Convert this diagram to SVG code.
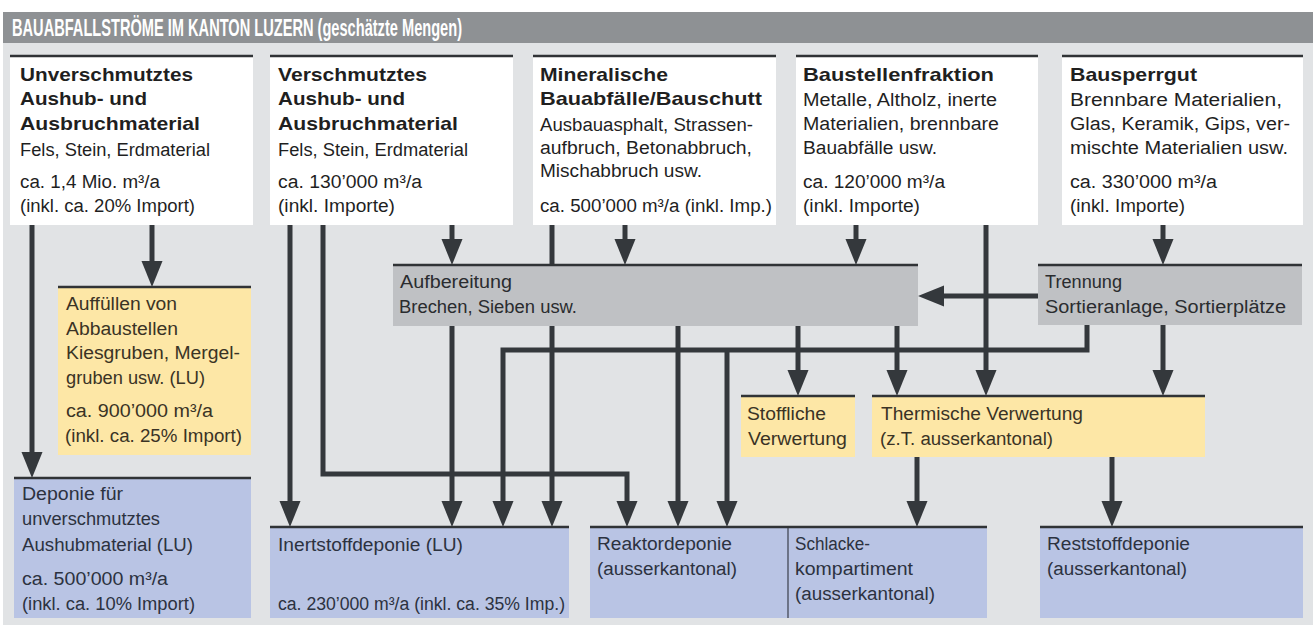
<svg xmlns="http://www.w3.org/2000/svg" width="1316" height="627" viewBox="0 0 1316 627">
<style>
.t{font-family:"Liberation Sans",Arial,sans-serif;font-size:18px;fill:#1f1f1f}
.b{font-weight:bold;font-size:19px}
.g{fill:#2a2c2f}
.y{fill:#3a3325}
.bl{fill:#2c3240}
.white{fill:#ffffff}
.gray{fill:#bfc1c4}
.yel{fill:#fde7a6}
.blue{fill:#b9c4e4}
.rule{stroke:#303336;stroke-width:2.5}
.c{fill:none;stroke:#34383c;stroke-width:5}
.ca{fill:none;stroke:#34383c;stroke-width:5;marker-end:url(#ah)}
</style>
<defs>
<marker id="ah" markerUnits="userSpaceOnUse" markerWidth="27" markerHeight="23" refX="13" refY="11.5" orient="auto" viewBox="0 0 27 23">
<path d="M0,1 L26,11.5 L0,22 z" fill="#34383c"/>
</marker>
</defs>
<rect x="0" y="0" width="1316" height="627" fill="#ffffff"/>
<rect x="3" y="12" width="1310" height="613" fill="#e1e3e5"/>
<g id="title">
<rect x="3" y="12" width="1310" height="31" fill="#8e9194"/>
<text x="12" y="36" class="t" style="font-size:23px;font-weight:bold;fill:#ffffff;font-stretch:condensed" textLength="450" lengthAdjust="spacingAndGlyphs">BAUABFALLSTRÖME IM KANTON LUZERN (geschätzte Mengen)</text>
</g>

<g id="connectors">
<line class="ca" x1="32" y1="225" x2="32" y2="465"/>
<line class="ca" x1="152" y1="225" x2="152" y2="274"/>
<line class="ca" x1="290" y1="225" x2="290" y2="514"/>
<polyline class="ca" points="323,225 323,474 627,474 627,514"/>
<line class="ca" x1="452" y1="225" x2="452" y2="252"/>
<line class="c" x1="552" y1="225" x2="552" y2="266"/>
<line class="ca" x1="625" y1="225" x2="625" y2="252"/>
<line class="ca" x1="856" y1="225" x2="856" y2="252"/>
<line class="ca" x1="986" y1="225" x2="986" y2="383"/>
<line class="ca" x1="1163" y1="225" x2="1163" y2="252"/>
<line class="ca" x1="1038" y1="296" x2="931" y2="296"/>
<line class="ca" x1="452" y1="326" x2="452" y2="514"/>
<line class="ca" x1="552" y1="326" x2="552" y2="514"/>
<line class="ca" x1="678" y1="326" x2="678" y2="514"/>
<line class="ca" x1="798" y1="326" x2="798" y2="383"/>
<line class="ca" x1="897" y1="326" x2="897" y2="383"/>
<polyline class="ca" points="1087,325 1087,350 503,350 503,514"/>
<line class="ca" x1="727" y1="350" x2="727" y2="514"/>
<line class="ca" x1="1163" y1="325" x2="1163" y2="383"/>
<line class="ca" x1="917" y1="457" x2="917" y2="514"/>
<line class="ca" x1="1112" y1="457" x2="1112" y2="514"/>
</g>

<g id="n-unverschmutzt">
<rect class="white" x="10" y="57" width="243" height="168"/>
<line class="rule" x1="10" y1="56" x2="253" y2="56"/>
<text class="t b" x="20" y="81" textLength="173" lengthAdjust="spacingAndGlyphs">Unverschmutztes</text>
<text class="t b" x="20" y="105" textLength="127" lengthAdjust="spacingAndGlyphs">Aushub- und</text>
<text class="t b" x="20" y="130" textLength="180" lengthAdjust="spacingAndGlyphs">Ausbruchmaterial</text>
<text class="t" x="20" y="156" textLength="190" lengthAdjust="spacingAndGlyphs">Fels, Stein, Erdmaterial</text>
<text class="t" x="20" y="188" textLength="140" lengthAdjust="spacingAndGlyphs">ca. 1,4 Mio. m³/a</text>
<text class="t" x="20" y="212" textLength="175" lengthAdjust="spacingAndGlyphs">(inkl. ca. 20% Import)</text>
</g>

<g id="n-verschmutzt">
<rect class="white" x="270" y="57" width="243" height="168"/>
<line class="rule" x1="270" y1="56" x2="513" y2="56"/>
<text class="t b" x="278" y="81" textLength="149" lengthAdjust="spacingAndGlyphs">Verschmutztes</text>
<text class="t b" x="278" y="105" textLength="127" lengthAdjust="spacingAndGlyphs">Aushub- und</text>
<text class="t b" x="278" y="130" textLength="180" lengthAdjust="spacingAndGlyphs">Ausbruchmaterial</text>
<text class="t" x="278" y="156" textLength="190" lengthAdjust="spacingAndGlyphs">Fels, Stein, Erdmaterial</text>
<text class="t" x="278" y="188" textLength="144" lengthAdjust="spacingAndGlyphs">ca. 130’000 m³/a</text>
<text class="t" x="278" y="212" textLength="117" lengthAdjust="spacingAndGlyphs">(inkl. Importe)</text>
</g>

<g id="n-mineralisch">
<rect class="white" x="533" y="57" width="243" height="168"/>
<line class="rule" x1="533" y1="56" x2="776" y2="56"/>
<text class="t b" x="540" y="81" textLength="128" lengthAdjust="spacingAndGlyphs">Mineralische</text>
<text class="t b" x="540" y="105" textLength="222" lengthAdjust="spacingAndGlyphs">Bauabfälle/Bauschutt</text>
<text class="t" x="540" y="131" textLength="213" lengthAdjust="spacingAndGlyphs">Ausbauasphalt, Strassen-</text>
<text class="t" x="540" y="154" textLength="212" lengthAdjust="spacingAndGlyphs">aufbruch, Betonabbruch,</text>
<text class="t" x="540" y="177" textLength="162" lengthAdjust="spacingAndGlyphs">Mischabbruch usw.</text>
<text class="t" x="540" y="212" textLength="232" lengthAdjust="spacingAndGlyphs">ca. 500’000 m³/a (inkl. Imp.)</text>
</g>

<g id="n-baustellen">
<rect class="white" x="796" y="57" width="242" height="168"/>
<line class="rule" x1="796" y1="56" x2="1038" y2="56"/>
<text class="t b" x="803" y="81" textLength="191" lengthAdjust="spacingAndGlyphs">Baustellenfraktion</text>
<text class="t" x="803" y="106" textLength="194" lengthAdjust="spacingAndGlyphs">Metalle, Altholz, inerte</text>
<text class="t" x="803" y="130" textLength="196" lengthAdjust="spacingAndGlyphs">Materialien, brennbare</text>
<text class="t" x="803" y="154" textLength="134" lengthAdjust="spacingAndGlyphs">Bauabfälle usw.</text>
<text class="t" x="803" y="188" textLength="142" lengthAdjust="spacingAndGlyphs">ca. 120’000 m³/a</text>
<text class="t" x="803" y="212" textLength="117" lengthAdjust="spacingAndGlyphs">(inkl. Importe)</text>
</g>

<g id="n-bausperrgut">
<rect class="white" x="1062" y="57" width="241" height="168"/>
<line class="rule" x1="1062" y1="56" x2="1303" y2="56"/>
<text class="t b" x="1070" y="81" textLength="127" lengthAdjust="spacingAndGlyphs">Bausperrgut</text>
<text class="t" x="1070" y="106" textLength="212" lengthAdjust="spacingAndGlyphs">Brennbare Materialien,</text>
<text class="t" x="1070" y="130" textLength="220" lengthAdjust="spacingAndGlyphs">Glas, Keramik, Gips, ver-</text>
<text class="t" x="1070" y="154" textLength="218" lengthAdjust="spacingAndGlyphs">mischte Materialien usw.</text>
<text class="t" x="1070" y="188" textLength="147" lengthAdjust="spacingAndGlyphs">ca. 330’000 m³/a</text>
<text class="t" x="1070" y="212" textLength="115" lengthAdjust="spacingAndGlyphs">(inkl. Importe)</text>
</g>

<g id="n-aufbereitung">
<rect class="gray" x="393" y="266" width="525" height="60"/>
<line class="rule" x1="393" y1="265" x2="918" y2="265"/>
<text class="t g" x="400" y="288" textLength="112" lengthAdjust="spacingAndGlyphs">Aufbereitung</text>
<text class="t g" x="399" y="313" textLength="178" lengthAdjust="spacingAndGlyphs">Brechen, Sieben usw.</text>
</g>

<g id="n-trennung">
<rect class="gray" x="1038" y="266" width="264" height="59"/>
<line class="rule" x1="1038" y1="265" x2="1302" y2="265"/>
<text class="t g" x="1045" y="288" textLength="77" lengthAdjust="spacingAndGlyphs">Trennung</text>
<text class="t g" x="1045" y="313" textLength="241" lengthAdjust="spacingAndGlyphs">Sortieranlage, Sortierplätze</text>
</g>

<g id="n-auffuellen">
<rect class="yel" x="58" y="288" width="193" height="167"/>
<line class="rule" x1="58" y1="287" x2="251" y2="287"/>
<text class="t y" x="66" y="310" textLength="111" lengthAdjust="spacingAndGlyphs">Auffüllen von</text>
<text class="t y" x="66" y="335" textLength="112" lengthAdjust="spacingAndGlyphs">Abbaustellen</text>
<text class="t y" x="66" y="359" textLength="174" lengthAdjust="spacingAndGlyphs">Kiesgruben, Mergel-</text>
<text class="t y" x="66" y="384" textLength="139" lengthAdjust="spacingAndGlyphs">gruben usw. (LU)</text>
<text class="t y" x="66" y="417" textLength="147" lengthAdjust="spacingAndGlyphs">ca. 900’000 m³/a</text>
<text class="t y" x="65" y="442" textLength="177" lengthAdjust="spacingAndGlyphs">(inkl. ca. 25% Import)</text>
</g>

<g id="n-stoffliche">
<rect class="yel" x="741" y="397" width="114" height="60"/>
<line class="rule" x1="741" y1="396" x2="855" y2="396"/>
<text class="t y" x="747" y="420" textLength="79" lengthAdjust="spacingAndGlyphs">Stoffliche</text>
<text class="t y" x="748" y="445" textLength="99" lengthAdjust="spacingAndGlyphs">Verwertung</text>
</g>

<g id="n-thermische">
<rect class="yel" x="872" y="397" width="333" height="60"/>
<line class="rule" x1="872" y1="396" x2="1205" y2="396"/>
<text class="t y" x="881" y="420" textLength="202" lengthAdjust="spacingAndGlyphs">Thermische Verwertung</text>
<text class="t y" x="880" y="445" textLength="173" lengthAdjust="spacingAndGlyphs">(z.T. ausserkantonal)</text>
</g>

<g id="n-deponie">
<rect class="blue" x="14" y="479" width="237" height="139"/>
<line class="rule" x1="14" y1="478" x2="251" y2="478"/>
<text class="t bl" x="22" y="500" textLength="101" lengthAdjust="spacingAndGlyphs">Deponie für</text>
<text class="t bl" x="22" y="525" textLength="138" lengthAdjust="spacingAndGlyphs">unverschmutztes</text>
<text class="t bl" x="22" y="551" textLength="171" lengthAdjust="spacingAndGlyphs">Aushubmaterial (LU)</text>
<text class="t bl" x="22" y="585" textLength="146" lengthAdjust="spacingAndGlyphs">ca. 500’000 m³/a</text>
<text class="t bl" x="22" y="610" textLength="173" lengthAdjust="spacingAndGlyphs">(inkl. ca. 10% Import)</text>
</g>

<g id="n-inertstoff">
<rect class="blue" x="270" y="528" width="299" height="90"/>
<line class="rule" x1="270" y1="527" x2="569" y2="527"/>
<text class="t bl" x="278" y="551" textLength="185" lengthAdjust="spacingAndGlyphs">Inertstoffdeponie (LU)</text>
<text class="t bl" x="278" y="610" textLength="287" lengthAdjust="spacingAndGlyphs">ca. 230’000 m³/a (inkl. ca. 35% Imp.)</text>
</g>

<g id="n-reaktor">
<rect class="blue" x="590" y="528" width="397" height="90"/>
<line class="rule" x1="590" y1="527" x2="987" y2="527"/>
<line x1="788" y1="528" x2="788" y2="618" stroke="#3a3f4a" stroke-width="1.2"/>
<text class="t bl" x="597" y="550" textLength="135" lengthAdjust="spacingAndGlyphs">Reaktordeponie</text>
<text class="t bl" x="597" y="575" textLength="140" lengthAdjust="spacingAndGlyphs">(ausserkantonal)</text>
</g>

<g id="n-schlacke">
<text class="t bl" x="795" y="550" textLength="75" lengthAdjust="spacingAndGlyphs">Schlacke-</text>
<text class="t bl" x="795" y="575" textLength="118" lengthAdjust="spacingAndGlyphs">kompartiment</text>
<text class="t bl" x="795" y="600" textLength="140" lengthAdjust="spacingAndGlyphs">(ausserkantonal)</text>
</g>

<g id="n-reststoff">
<rect class="blue" x="1040" y="528" width="263" height="90"/>
<line class="rule" x1="1040" y1="527" x2="1303" y2="527"/>
<text class="t bl" x="1047" y="550" textLength="143" lengthAdjust="spacingAndGlyphs">Reststoffdeponie</text>
<text class="t bl" x="1047" y="575" textLength="140" lengthAdjust="spacingAndGlyphs">(ausserkantonal)</text>
</g>
</svg>
